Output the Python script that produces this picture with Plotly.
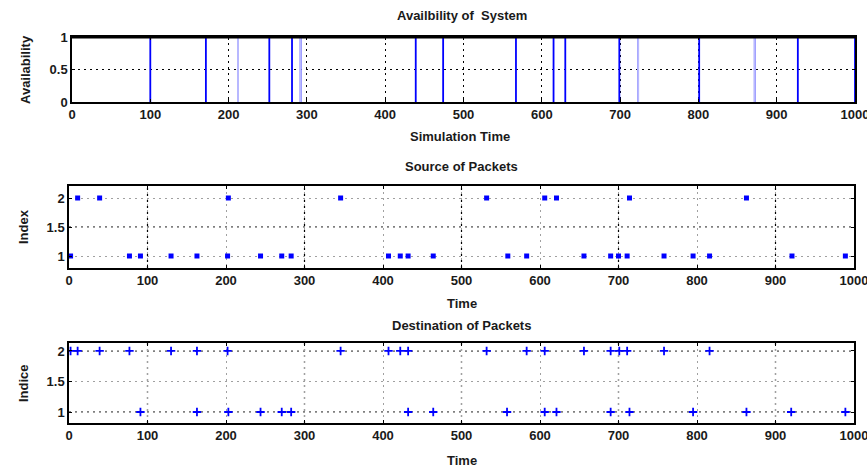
import plotly.graph_objects as go

# ---------------- data ----------------
time_ticks = [0, 100, 200, 300, 400, 500, 600, 700, 800, 900, 1000]
avail_ticks = [0, 0.5, 1]
index_ticks = [1, 1.5, 2]

# times at which the system availability drops (vertical lines)
outage_times = [100, 171, 212, 252, 281, 292, 439, 474, 567, 615, 630,
                699, 723, 801, 872, 927, 1000]
faint_outages = [212, 292, 723, 872]  # drawn lighter (style only)

src_t_2 = [11, 39, 203, 346, 532, 606, 621, 714, 863]
src_t_1 = [2, 77, 91, 130, 163, 202, 244, 271, 283, 407, 422, 432, 464,
           559, 583, 656, 690, 700, 711, 758, 795, 816, 921, 989]

dst_t_2 = [2, 11, 39, 77, 130, 163, 202, 346, 407, 422, 432, 532, 583,
           606, 656, 690, 701, 711, 758, 816]
dst_t_1 = [91, 163, 203, 244, 271, 283, 432, 464, 558, 606, 621, 690,
           714, 795, 863, 920, 989]

W, H = 867, 469
FONT = "Liberation Sans"
BLUE = "#0000ff"


def px(x):
    return x / W


def py(y):
    return 1 - y / H


fig = go.Figure()

# ---- top panel: availability stairs ----
sx, sy = [time_ticks[0]], [1]
for t in outage_times:
    sx += [t, t, t]
    sy += [1, 0, 1]
sx.append(time_ticks[-1])
sy.append(1)
fig.add_trace(go.Scatter(x=sx, y=sy, mode="lines",
                         line=dict(color=BLUE, width=1.8),
                         xaxis="x", yaxis="y", hoverinfo="skip"))
fx, fy = [], []
for t in faint_outages:
    fx += [t, t, None]
    fy += [0, 1, None]
fig.add_trace(go.Scatter(x=fx, y=fy, mode="lines",
                         line=dict(color="#b8b8ff", width=2),
                         xaxis="x", yaxis="y", hoverinfo="skip"))

# ---- middle panel: source ----
fig.add_trace(go.Scatter(x=src_t_2, y=[2] * len(src_t_2), mode="markers",
                         marker=dict(color=BLUE, size=5, symbol="square"),
                         xaxis="x2", yaxis="y2"))
fig.add_trace(go.Scatter(x=src_t_1, y=[1] * len(src_t_1), mode="markers",
                         marker=dict(color=BLUE, size=5, symbol="square"),
                         xaxis="x2", yaxis="y2"))

# ---- bottom panel: destination ----
fig.add_trace(go.Scatter(x=dst_t_2, y=[2] * len(dst_t_2), mode="markers",
                         marker=dict(color=BLUE, size=6, symbol="cross-thin",
                                     line=dict(color=BLUE, width=1.8)),
                         xaxis="x3", yaxis="y3"))
fig.add_trace(go.Scatter(x=dst_t_1, y=[1] * len(dst_t_1), mode="markers",
                         marker=dict(color=BLUE, size=6, symbol="cross-thin",
                                     line=dict(color=BLUE, width=1.8)),
                         xaxis="x3", yaxis="y3"))

tickfont = dict(family=FONT, size=13, color="#1a1a1a", weight="bold")
GRIDDASH = "2px,4px"


def xax(domain, anchor, gridcolor):
    return dict(domain=domain, anchor=anchor, range=[time_ticks[0], time_ticks[-1]],
                tickvals=time_ticks, ticks="inside", ticklen=3, tickcolor="black",
                showline=True, linecolor="black", linewidth=1.5, mirror="ticks",
                showgrid=True, gridcolor=gridcolor, griddash=GRIDDASH, gridwidth=1,
                zeroline=False, tickfont=tickfont, fixedrange=True,
                ticklabeloverflow="allow")


def yax(domain, anchor, rng, vals, gridcolor):
    return dict(domain=domain, anchor=anchor, range=rng, tickvals=vals,
                ticktext=[f"{v:g}" for v in vals],
                ticks="inside", ticklen=3, tickcolor="black",
                showline=True, linecolor="black", linewidth=1.5, mirror="ticks",
                showgrid=True, gridcolor=gridcolor, griddash=GRIDDASH, gridwidth=1,
                zeroline=False, tickfont=tickfont, fixedrange=True,
                ticklabeloverflow="allow")


top_x = [px(72), px(855)]
low_x = [px(69), px(854)]
top_y = [py(102), py(37)]
mid_y = [py(268), py(186)]
bot_y = [py(423), py(343)]

shapes = []
# darker grid lines in the lower panels (odd hundreds), gray for the rest
for ax_x, ax_y in (("x2", "y2"), ("x3", "y3")):
    for t in time_ticks[1:-1:2]:
        shapes.append(dict(type="line", xref=ax_x, yref=f"{ax_y} domain",
                           x0=t, x1=t, y0=0, y1=1, layer="below",
                           line=dict(color="black", width=1.2, dash=GRIDDASH)))
shapes.append(dict(type="line", xref="x2 domain", yref="y2", x0=0, x1=1,
                   y0=index_ticks[1], y1=index_ticks[1], layer="below",
                   line=dict(color="black", width=1.2, dash=GRIDDASH)))
for v in (index_ticks[0], index_ticks[2]):
    shapes.append(dict(type="line", xref="x3 domain", yref="y3", x0=0, x1=1,
                       y0=v, y1=v, layer="below",
                       line=dict(color="black", width=1.2, dash=GRIDDASH)))
# thick top edge of availability panel
shapes.append(dict(type="line", xref="x domain", yref="y domain", x0=0, x1=1,
                   y0=1, y1=1, layer="above", line=dict(color="black", width=3)))

lab = dict(family=FONT, size=13, color="#1a1a1a", weight="bold")
ttl = dict(family=FONT, size=13, color="#1a1a1a", weight="bold")
annotations = [
    dict(text="Availbility of  System", x=px(462), y=py(15), font=ttl),
    dict(text="Simulation Time", x=px(460), y=py(136), font=lab),
    dict(text="Availability", x=px(25), y=py(70), font=lab, textangle=-90),
    dict(text="Source of Packets", x=px(462), y=py(166), font=ttl),
    dict(text="Time", x=px(462), y=py(303), font=lab),
    dict(text="Index", x=px(23), y=py(227), font=lab, textangle=-90),
    dict(text="Destination of Packets", x=px(462), y=py(325), font=ttl),
    dict(text="Time", x=px(462), y=py(460), font=lab),
    dict(text="Indice", x=px(23), y=py(383), font=lab, textangle=-90),
]
for a in annotations:
    a.update(xref="paper", yref="paper", showarrow=False,
             xanchor="center", yanchor="middle")

fig.update_layout(
    width=W, height=H,
    margin=dict(l=0, r=0, t=0, b=0, autoexpand=False),
    paper_bgcolor="white", plot_bgcolor="white",
    showlegend=False,
    xaxis=xax(top_x, "y", "black"),
    yaxis=yax(top_y, "x", [avail_ticks[0], avail_ticks[-1]], avail_ticks, "black"),
    xaxis2=xax(low_x, "y2", "#a0a0a0"),
    yaxis2=yax(mid_y, "x2", [0.793, 2.207], index_ticks, "#a0a0a0"),
    xaxis3=xax(low_x, "y3", "#a0a0a0"),
    yaxis3=yax(bot_y, "x3", [0.82, 2.13], index_ticks, "#a0a0a0"),
    shapes=shapes,
    annotations=annotations,
)

fig.write_html(
    "out.html",
    config={"displayModeBar": False},
    post_script="document.body.style.margin='0px';document.body.style.overflow='hidden';",
)
